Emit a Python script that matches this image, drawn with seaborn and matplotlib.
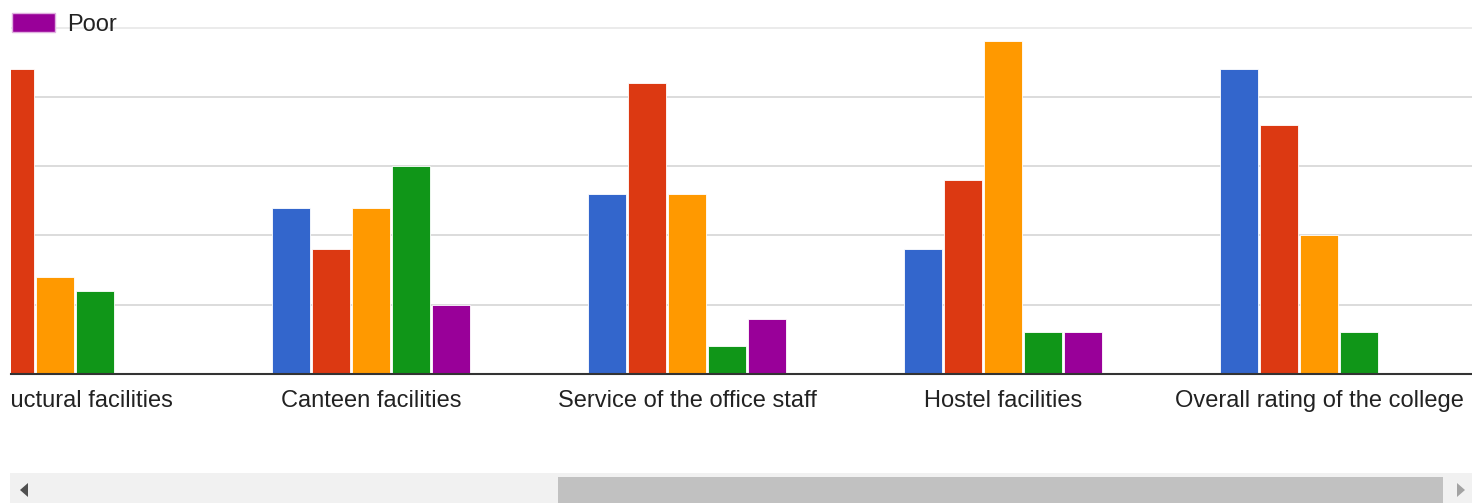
import pandas as pd
import seaborn as sns
import matplotlib.pyplot as plt
from matplotlib.patches import Patch, Rectangle, Polygon
from matplotlib.transforms import Bbox, TransformedBbox

# Valores (encuesta de valoracion)
categories = ["Infrastructural facilities", "Canteen facilities",
              "Service of the office staff", "Hostel facilities",
              "Overall rating of the college"]
ratings = ["Excellent", "Very good", "Good", "Average", "Poor"]
excellent = [18, 12, 13, 9, 22]
very_good = [22, 9, 21, 14, 18]
good = [7, 12, 13, 24, 10]
average = [6, 15, 2, 3, 3]
poor = [0, 5, 4, 3, 0]
colors = ["#3366cc", "#dc3912", "#ff9900", "#109618", "#990099"]

series = [excellent, very_good, good, average, poor]
rows = []
for r, vals in zip(ratings, series):
    for c, v in zip(categories, vals):
        rows.append({"category": c, "rating": r, "count": v})
df = pd.DataFrame(rows)

W, H = 1472, 503
fig = plt.figure(figsize=(W / 100, H / 100), dpi=100)
plt.rcParams['font.family'] = ['Liberation Sans', 'DejaVu Sans']

base = 374
ppu = 13.86
ymax = 25.5
top = base - ymax * ppu
ax = fig.add_axes([11 / W, 1 - base / H, 1 - 11 / W, (base - top) / H])

sns.barplot(data=df, x="category", y="count", hue="rating", order=categories,
            hue_order=ratings, palette=colors, saturation=1, width=0.633, gap=0.05,
            edgecolor="white", linewidth=0.6, legend=False, ax=ax, zorder=3)

ax.set_xlim((11 - 55) / 316, (W - 55) / 316)
ax.set_ylim(0, ymax)
ax.set_yticks([5, 10, 15, 20, 25])
ax.grid(axis="y", color="#d6d6d6", linewidth=1.2, zorder=0)
ax.get_ygridlines()[-1].set_color("#e8e8e8")
ax.set_axisbelow(True)
for s in ["top", "right", "left"]:
    ax.spines[s].set_visible(False)
ax.spines["bottom"].set_color("#333333")
ax.spines["bottom"].set_linewidth(1.5)
ax.spines["bottom"].set_zorder(4)
ax.tick_params(left=False, labelleft=False, bottom=False, pad=8,
               labelsize=17, labelcolor="#222222")
ax.set_xlabel("")
ax.set_ylabel("")

# recortar las etiquetas como en la vista desplazada
clip = TransformedBbox(Bbox([[11 / W, 0], [1, 1]]), fig.transFigure)
for lbl in ax.get_xticklabels():
    lbl.set_clip_box(clip)
    lbl.set_clip_on(True)

fig.legend(handles=[Patch(facecolor=colors[4], edgecolor="#e0b0e0")], labels=["Poor"],
           loc="upper left", bbox_to_anchor=(12 / W, 1 - 13 / H), frameon=False,
           fontsize=17, borderpad=0, borderaxespad=0, handlelength=1.82,
           handleheight=0.85, handletextpad=0.5, labelcolor="#222222")

# barra de desplazamiento
fig.add_artist(Rectangle((10 / W, 0), 1 - 10 / W, 30 / H, transform=fig.transFigure,
                         facecolor="#f1f1f1", edgecolor="none"))
fig.add_artist(Rectangle((558 / W, 0), 885 / W, 26 / H, transform=fig.transFigure,
                         facecolor="#c1c1c1", edgecolor="none"))
fig.add_artist(Polygon([(20 / W, 1 - 490 / H), (28 / W, 1 - 483 / H), (28 / W, 1 - 497 / H)],
                       transform=fig.transFigure, facecolor="#505050", edgecolor="none"))
fig.add_artist(Polygon([(1465 / W, 1 - 490 / H), (1457 / W, 1 - 483 / H), (1457 / W, 1 - 497 / H)],
                       transform=fig.transFigure, facecolor="#a3a3a3", edgecolor="none"))

fig.savefig("out.png", dpi=100)
